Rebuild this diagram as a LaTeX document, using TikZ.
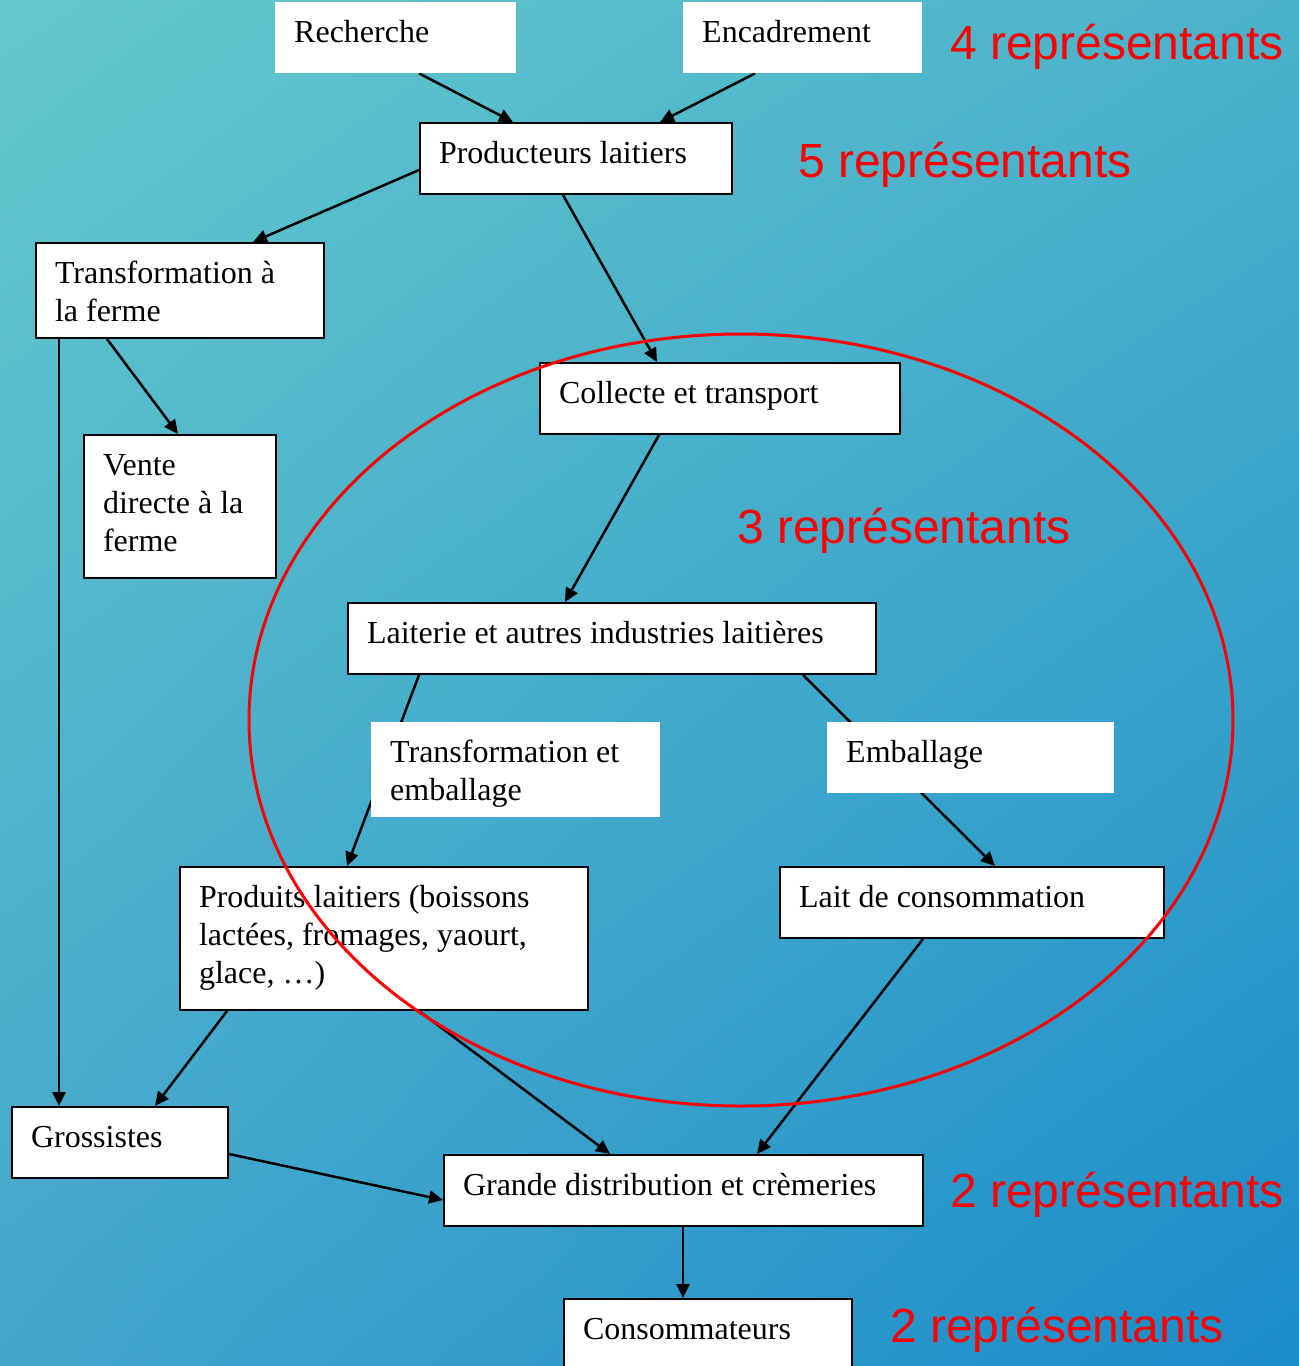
\documentclass[tikz,border=0pt]{standalone}
\usepackage{fontspec}
\setmainfont{Liberation Serif}
\newfontfamily\repfont{Liberation Sans}
\usetikzlibrary{arrows.meta,positioning,shadings}
\definecolor{bgtl}{RGB}{99,201,204}
\definecolor{bgtr}{RGB}{75,178,203}
\definecolor{bgbl}{RGB}{67,166,204}
\definecolor{bgbr}{RGB}{26,140,202}
\pgfdeclarelayer{background}
\pgfdeclarelayer{edges}
\pgfsetlayers{background,edges,main}

\begin{document}
\begin{tikzpicture}[x=1pt, y=-1pt, ->, >={Triangle[length=14pt,width=13pt]}]
	\tikzstyle{box}=[fill=white, anchor=north west, align=flush left, inner xsep=19pt, inner ysep=18pt, text height=22pt, font=\fontsize{32}{38}\selectfont]
	\tikzstyle{framed}=[box, draw=black, line width=2pt]
	\tikzstyle{oneline}=[text depth=13pt]
	\tikzstyle{twolines}=[text depth=37pt]
	\tikzstyle{threelines}=[text depth=85pt]
	\tikzstyle{reps}=[anchor=base west, inner sep=0pt, text=red, font=\repfont\fontsize{48}{56}\selectfont]
	\useasboundingbox (0,0) rectangle (1299,1366);
	\begin{pgfonlayer}{background}
		\shade[upper left=bgtl, upper right=bgtr, lower left=bgbl, lower right=bgbr] (0,0) rectangle (1299,1366);
	\end{pgfonlayer}
	% boxes
	\node[box,oneline,text width=203pt]          (recherche)   at (275,2)    {Recherche};
	\node[box,oneline,text width=201pt]          (encadrement) at (683,2)    {Encadrement};
	\node[framed,oneline,text width=274pt]       (producteurs) at (419,122)  {Producteurs laitiers};
	\node[framed,twolines,text width=250pt]      (ferme)       at (35,242)   {Transformation à\\la ferme};
	\node[framed,oneline,text width=322pt]       (collecte)    at (539,362)  {Collecte et transport};
	\node[framed,threelines,text width=154pt]    (vente)       at (83,434)   {Vente\\directe à la\\ferme};
	\node[framed,oneline,text width=490pt]       (laiterie)    at (347,602)  {Laiterie et autres industries laitières};
	\node[box,twolines,text width=251pt]         (transfo)     at (371,722)  {Transformation et\\emballage};
	\node[box,oneline,text width=249pt]          (emballage)   at (827,722)  {Emballage};
	\node[framed,threelines,text width=370pt]    (produits)    at (179,866)  {Produits laitiers (boissons\\lactées, fromages, yaourt,\\glace, …)};
	\node[framed,oneline,text width=346pt]       (lait)        at (779,866)  {Lait de consommation};
	\node[framed,oneline,text width=178pt]       (grossistes)  at (11,1106)  {Grossistes};
	\node[framed,oneline,text width=441pt]       (grande)      at (443,1154) {Grande distribution et crèmeries};
	\node[framed,oneline,text width=250pt]       (conso)       at (563,1298) {Consommateurs};
	% red counts
	\node[reps] (rep4) at (950,59)   {4 représentants};
	\node[reps] (rep5) at (798,177)  {5 représentants};
	\node[reps] (rep3) at (737,543)  {3 représentants};
	\node[reps] (rep2) at (950,1207) {2 représentants};
	\node[reps] (rep1) at (890,1342) {2 représentants};
	% connectors
	\begin{pgfonlayer}{edges}
	\begin{scope}[line width=2.5pt]
		\draw ([xshift=144pt]recherche.south west)   -- ([xshift=94pt]producteurs.north west);
		\draw ([xshift=72pt]encadrement.south west)  -- ([xshift=241pt]producteurs.north west);
		\draw ([yshift=-48pt]producteurs.north west) -- ([xshift=218pt]ferme.north west);
		\draw ([xshift=144pt]producteurs.south west) -- ([xshift=118pt]collecte.north west);
		\draw ([xshift=72pt]ferme.south west)        -- ([xshift=95pt]vente.north west);
		\draw ([xshift=24pt]ferme.south west)        -- ([xshift=48pt]grossistes.north west);
		\draw ([xshift=120pt]collecte.south west)    -- ([xshift=218pt]laiterie.north west);
		\draw ([xshift=72pt]laiterie.south west)     -- ([xshift=168pt]produits.north west);
		\draw ([xshift=456pt]laiterie.south west)    -- ([xshift=216pt]lait.north west);
		\draw ([xshift=48pt]produits.south west)     -- ([xshift=144pt]grossistes.north west);
		\draw ([xshift=240pt]produits.south west)    -- ([xshift=167pt]grande.north west);
		\draw ([xshift=144pt]lait.south west)        -- ([xshift=314pt]grande.north west);
		\draw ([yshift=-48pt]grossistes.north east)  -- ([yshift=-46pt]grande.north west);
		\draw ([xshift=240pt]grande.south west)      -- ([xshift=120pt]conso.north west);
	\end{scope}
	\end{pgfonlayer}
	\draw[-, red, line width=3pt] (741,720) ellipse [x radius=492pt, y radius=386pt];
\end{tikzpicture}
\end{document}
